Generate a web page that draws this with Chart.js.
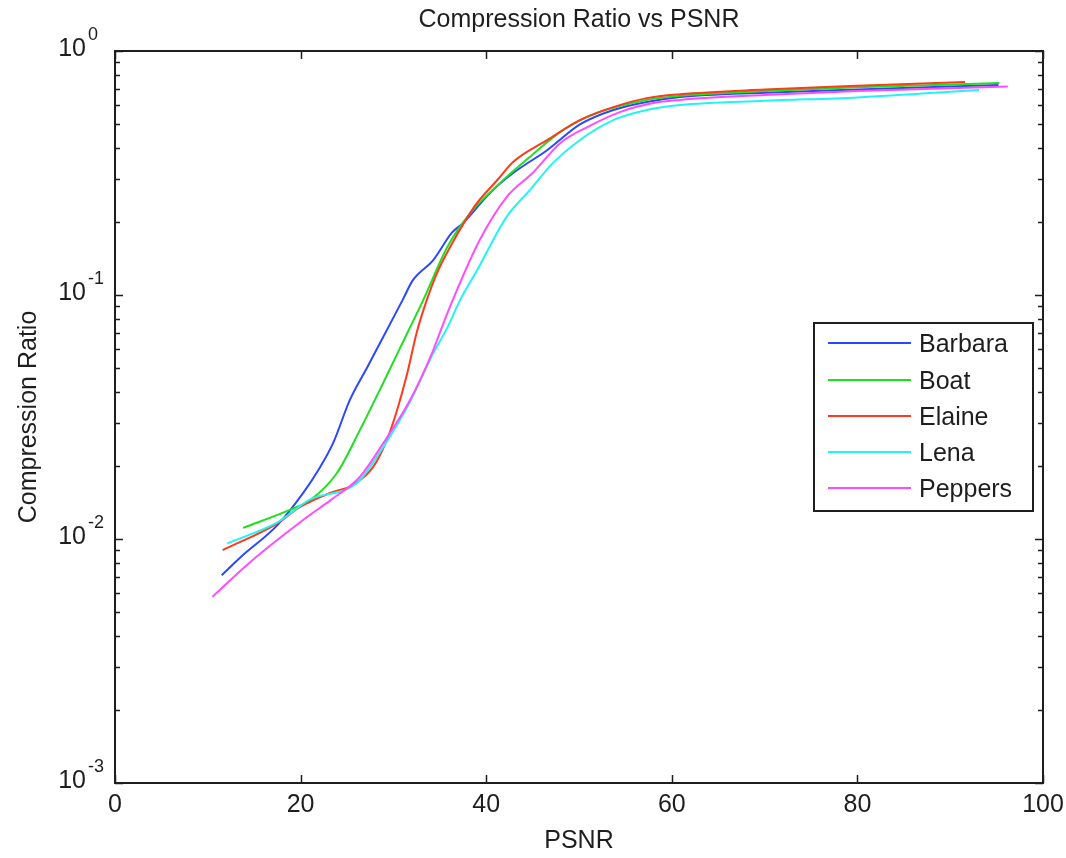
<!DOCTYPE html>
<html>
<head>
<meta charset="utf-8">
<script src="https://cdn.jsdelivr.net/npm/chart.js@4/dist/chart.umd.min.js"></script>
<style>
  html, body { margin: 0; padding: 0; background: #fff; }
  canvas { display: block; }
</style>
</head>
<body>
<canvas id="ratioChart" width="1066" height="858"></canvas>
<script>
// Series data (PSNR in dB, compression ratio)
let seriesNames = ['Barbara', 'Boat', 'Elaine', 'Lena', 'Peppers'];
let seriesColors = ['#2b48ff', '#1fe01f', '#ff3a1c', '#22f4f4', '#ff4cff'];

let barbaraPsnr  = [11.5, 13.5, 17.5, 20.3, 22.1, 23.5, 25.3, 27.2, 28.9, 31, 32.1, 34.3, 36.3, 37.5, 40.4, 42.9, 46.6, 50.1, 53.7, 57.3, 60.9, 70, 80, 95.2];
let barbaraRatio = [0.0071, 0.0084, 0.0114, 0.0155, 0.0197, 0.0247, 0.0371, 0.0507, 0.0673, 0.0955, 0.115, 0.139, 0.180, 0.197, 0.262, 0.316, 0.393, 0.50, 0.573, 0.618, 0.648, 0.675, 0.695, 0.726];

let boatPsnr  = [13.8, 18.9, 21, 23.9, 26.4, 28.9, 31.5, 33.2, 35.8, 38.3, 41.5, 44.7, 48.3, 51.9, 57.3, 60.9, 70, 80, 95.3];
let boatRatio = [0.0111, 0.0132, 0.0144, 0.0186, 0.028, 0.0436, 0.0699, 0.095, 0.157, 0.217, 0.288, 0.368, 0.475, 0.557, 0.63, 0.655, 0.685, 0.71, 0.739];

let elainePsnr  = [11.6, 17.5, 19.9, 23.5, 25.6, 27.8, 29.3, 30.4, 31.5, 32.5, 33.6, 34.7, 36.1, 38, 39, 41.2, 42.9, 46.6, 50.1, 53.7, 57.3, 60.9, 70, 80, 91.6];
let elaineRatio = [0.0090, 0.0116, 0.0135, 0.0156, 0.0166, 0.0197, 0.0255, 0.0338, 0.0479, 0.0699, 0.0955, 0.123, 0.157, 0.209, 0.238, 0.296, 0.351, 0.432, 0.521, 0.589, 0.641, 0.665, 0.695, 0.72, 0.746];

let lenaPsnr  = [12.1, 17.5, 21, 26.1, 28.9, 31.5, 34.3, 35.8, 37.2, 39, 42.2, 44.7, 47.2, 50.1, 53.7, 57.3, 60.9, 70, 80, 93.1];
let lenaRatio = [0.0096, 0.0117, 0.0145, 0.017, 0.0238, 0.0348, 0.0578, 0.0733, 0.0955, 0.126, 0.209, 0.269, 0.348, 0.432, 0.521, 0.573, 0.601, 0.625, 0.645, 0.692];

let peppersPsnr  = [10.5, 14.5, 20.7, 23.2, 26.4, 28.9, 31.8, 34.3, 35.2, 36.4, 39.3, 42.2, 45, 48, 50.9, 54.4, 58, 60.9, 70, 80, 96.2];
let peppersRatio = [0.0058, 0.0080, 0.0123, 0.0144, 0.018, 0.0247, 0.0371, 0.0595, 0.0733, 0.0955, 0.168, 0.252, 0.316, 0.42, 0.488, 0.562, 0.612, 0.63, 0.66, 0.685, 0.716];

let xTicks = [0, 20, 40, 60, 80, 100];
let yDecades = [-3, -2, -1, 0];

let allPsnr = [barbaraPsnr, boatPsnr, elainePsnr, lenaPsnr, peppersPsnr];
let allRatio = [barbaraRatio, boatRatio, elaineRatio, lenaRatio, peppersRatio];

const FONT = "'Liberation Sans', Arial, Helvetica, sans-serif";
const INK = '#1e1e1e';

// Helper: pair up x and y arrays
function toPoints(xs, ys) {
    return xs.map((x, i) => ({ x: x, y: ys[i] }));
}

// MATLAB style box, inward ticks, y labels and legend
const matlabFrame = {
    id: 'matlabFrame',
    afterDatasetsDraw(chart) {
        let ctx = chart.ctx;
        let area = chart.chartArea;
        let xs = chart.scales.x, ys = chart.scales.y;
        ctx.save();
        ctx.strokeStyle = INK;
        ctx.lineWidth = 2;
        ctx.strokeRect(area.left, area.top, area.right - area.left, area.bottom - area.top);

        ctx.lineWidth = 1.5;
        ctx.beginPath();
        xTicks.forEach(v => {
            let px = Math.round(xs.getPixelForValue(v)) + 0.5;
            ctx.moveTo(px, area.bottom); ctx.lineTo(px, area.bottom - 8);
            ctx.moveTo(px, area.top); ctx.lineTo(px, area.top + 8);
        });
        yDecades.forEach(d => {
            for (let m = 1; m <= 9; m++) {
                if (d === 0 && m > 1) break;
                let py = Math.round(ys.getPixelForValue(m * Math.pow(10, d))) + 0.5;
                let len = m === 1 ? 8 : 5;
                ctx.moveTo(area.left, py); ctx.lineTo(area.left + len, py);
                ctx.moveTo(area.right, py); ctx.lineTo(area.right - len, py);
            }
        });
        ctx.stroke();

        // y tick labels as 10 with a raised exponent
        ctx.fillStyle = INK;
        yDecades.forEach(d => {
            let py = ys.getPixelForValue(Math.pow(10, d));
            ctx.font = '25px ' + FONT;
            ctx.textAlign = 'right';
            ctx.textBaseline = 'alphabetic';
            ctx.fillText('10', area.left - 29, py + 5);
            ctx.font = '18px ' + FONT;
            ctx.textAlign = 'left';
            ctx.fillText(String(d), area.left - 27, py - 11);
        });

        // legend box inside the plot
        let boxW = 219, boxH = 188;
        let bx = area.right - 10 - boxW;
        let by = Math.round((area.top + area.bottom) / 2 - boxH / 2);
        ctx.fillStyle = '#fff';
        ctx.fillRect(bx, by, boxW, boxH);
        ctx.lineWidth = 2;
        ctx.strokeStyle = INK;
        ctx.strokeRect(bx, by, boxW, boxH);
        let rows = [20, 57, 93, 129, 165];
        chart.data.datasets.forEach((ds, i) => {
            let ry = by + rows[i];
            ctx.strokeStyle = ds.borderColor;
            ctx.lineWidth = 2;
            ctx.beginPath();
            ctx.moveTo(bx + 14, ry); ctx.lineTo(bx + 97, ry);
            ctx.stroke();
            ctx.fillStyle = INK;
            ctx.font = '25px ' + FONT;
            ctx.textAlign = 'left';
            ctx.textBaseline = 'middle';
            ctx.fillText(ds.label, bx + 105, ry + 2);
        });
        ctx.restore();
    }
};

let ctx = document.getElementById('ratioChart').getContext('2d');
new Chart(ctx, {
    type: 'line',
    data: {
        datasets: seriesNames.map((name, i) => ({
            label: name,
            data: toPoints(allPsnr[i], allRatio[i]),
            borderColor: seriesColors[i],
            backgroundColor: seriesColors[i],
            borderWidth: 2,
            pointRadius: 0,
            cubicInterpolationMode: 'monotone',
            fill: false,
            order: seriesNames.length - i
        }))
    },
    options: {
        responsive: false,
        animation: false,
        layout: { padding: { left: 0, right: 23, top: 0, bottom: 0 } },
        plugins: {
            legend: { display: false },
            tooltip: { enabled: false },
            title: {
                display: true,
                text: 'Compression Ratio vs PSNR',
                fullSize: false,
                color: INK,
                font: { family: FONT, size: 25, weight: 'normal', lineHeight: 1.2 },
                padding: { top: 5, bottom: 16 }
            }
        },
        scales: {
            x: {
                type: 'linear',
                min: 0,
                max: 100,
                afterBuildTicks: scale => { scale.ticks = xTicks.map(v => ({ value: v })); },
                ticks: { color: INK, font: { family: FONT, size: 25 }, padding: 7, maxRotation: 0 },
                grid: { display: false, drawTicks: false },
                border: { display: false },
                title: {
                    display: true,
                    text: 'PSNR',
                    color: INK,
                    font: { family: FONT, size: 25 },
                    padding: { top: 0, bottom: 2 }
                },
                afterFit: scale => {
                    scale.height = 75;
                    scale.paddingLeft = 0;
                    scale.paddingRight = 0;
                }
            },
            y: {
                type: 'logarithmic',
                min: 0.001,
                max: 1,
                afterBuildTicks: scale => { scale.ticks = yDecades.map(d => ({ value: Math.pow(10, d) })); },
                ticks: { display: false },
                grid: { display: false, drawTicks: false },
                border: { display: false },
                title: {
                    display: true,
                    text: 'Compression Ratio',
                    color: INK,
                    font: { family: FONT, size: 25 },
                    padding: { top: 14, bottom: 0 }
                },
                afterFit: scale => {
                    scale.width = 115;
                    scale.paddingTop = 0;
                    scale.paddingBottom = 0;
                }
            }
        }
    },
    plugins: [matlabFrame]
});
</script>
</body>
</html>
